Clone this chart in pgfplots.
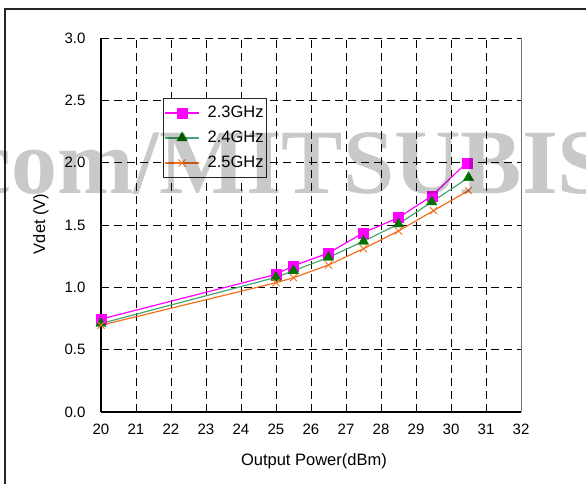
\documentclass[border=0pt]{standalone}
\usepackage{fontspec}
\setmainfont{Liberation Sans}
\newfontfamily\wmfont{Liberation Serif}
\usepackage{pgfplots}
\pgfplotsset{compat=1.18}

\definecolor{cMag}{RGB}{255,0,255}
\definecolor{cGrnLine}{RGB}{70,165,115}
\definecolor{cGrnMark}{RGB}{0,115,0}
\definecolor{cOrg}{RGB}{245,110,30}

\begin{document}
\begin{tikzpicture}
\useasboundingbox (-101bp,-72bp) rectangle (485bp,412bp);
% outer frame
\draw[line width=1.2bp, black!85] (-96bp,-90bp) -- (-96bp,403bp) -- (500bp,403bp);
\begin{axis}[
  at={(0,0)}, anchor=south west,
  scale only axis, width=420bp, height=374bp,
  xmin=20, xmax=32, ymin=0, ymax=3,
  xtick={20,21,...,32},
  ytick={0,0.5,...,3.0},
  major tick length=0pt,
  grid=major,
  major grid style={black, line width=0.9bp, dash pattern=on 8bp off 5bp},
  separate axis lines,
  axis x line*=bottom, axis y line*=left,
  axis line style={line width=2bp, black, -},
  /pgf/number format/assume math mode=true,
  yticklabel style={/pgf/number format/fixed, /pgf/number format/fixed zerofill,
    /pgf/number format/precision=1},
  ticklabel style={font=\fontsize{15bp}{17bp}\selectfont},
  xticklabel style={yshift=-9bp},
  yticklabel style={xshift=-12bp},
  xlabel={Output Power(dBm)},
  ylabel={Vdet (V)},
  label style={font=\fontsize{16.5bp}{19bp}\selectfont},
  xlabel style={at={(axis description cs:0.507,-0.131)}, anchor=center},
  ylabel style={at={(axis description cs:-0.143,0.503)}, anchor=center},
  legend style={at={(rel axis cs:0.1476,0.8396)}, anchor=north west,
    draw=black!85, line width=0.9bp, fill=white, inner xsep=1bp, inner ysep=6bp,
    font=\fontsize{16.5bp}{19bp}\selectfont,
    row sep=8bp, cells={anchor=west}},
  legend image code/.code={%
    \draw[mark repeat=2, mark phase=2] plot coordinates {(0bp,0bp) (17bp,0bp) (34bp,0bp)};
    \path (40bp,0bp);},
  clip=false,
]
\addplot[cMag, line width=1.2bp, mark=square*, mark size=5bp,
  mark options={fill=cMag, draw=cMag, line width=0.3bp}] coordinates {
  (20,0.745) (25,1.104) (25.5,1.173) (26.5,1.275) (27.5,1.438)
  (28.5,1.559) (29.45,1.733) (30.45,2.00)};
\addlegendentry{2.3GHz}
\addplot[cGrnLine, line width=1.2bp, mark=triangle*, mark size=6bp,
  mark options={fill=cGrnMark, draw=cGrnMark, line width=0.3bp}] coordinates {
  (20,0.71) (25,1.08) (25.5,1.133) (26.5,1.24) (27.5,1.369)
  (28.5,1.508) (29.45,1.685) (30.5,1.88)};
\addlegendentry{2.4GHz}
\addplot[cOrg, line width=1.2bp, mark=x, mark size=5bp,
  mark options={draw=cOrg, line width=0.9bp}] coordinates {
  (20,0.696) (25,1.037) (25.5,1.077) (26.5,1.179) (27.5,1.31)
  (28.5,1.452) (29.5,1.615) (30.5,1.776)};
\addlegendentry{2.5GHz}
% right border of the plot area
\draw[black!55, line width=1bp] (rel axis cs:1,0) -- (rel axis cs:1,1);
\end{axis}
% light grey overprint
\node[anchor=base west, inner sep=0pt, text=black, text opacity=0.21,
  font=\wmfont\bfseries\fontsize{92bp}{92bp}\selectfont] at (-131bp,218bp) {com/MITSUBIS};
\end{tikzpicture}
\end{document}
